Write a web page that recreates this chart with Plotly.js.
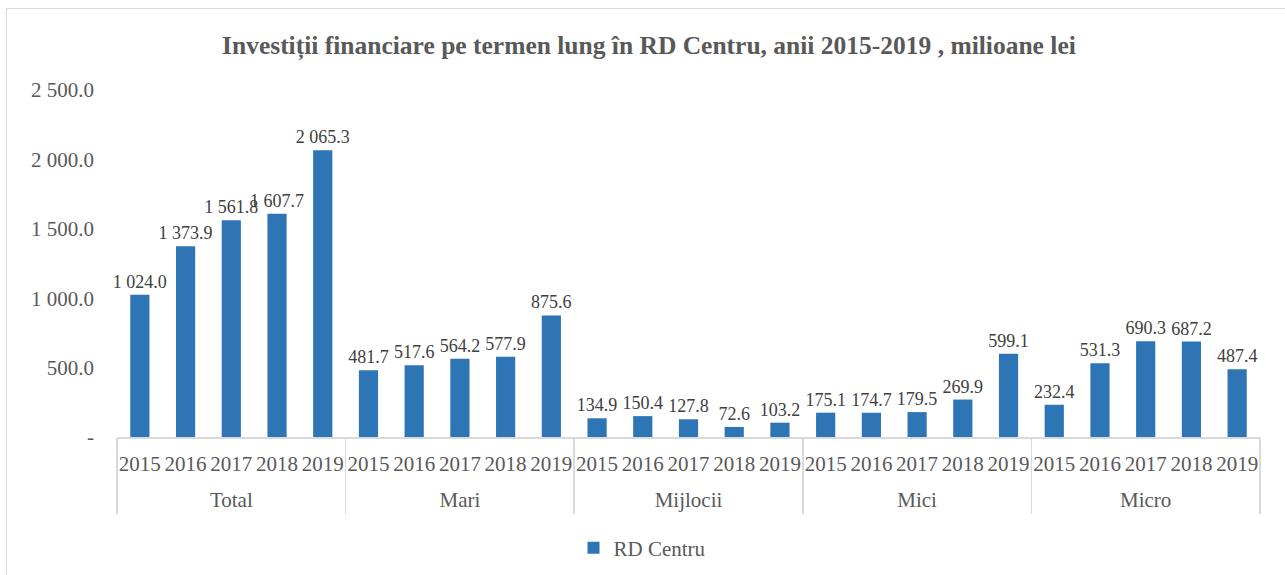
<!DOCTYPE html>
<html>
<head>
<meta charset="utf-8">
<script src="https://cdn.plot.ly/plotly-3.0.1.min.js"></script>
<style>
html,body{margin:0;padding:0;background:#fff;}
#frame{position:absolute;left:6px;top:8px;width:1290px;height:580px;border:1px solid #d9d9d9;box-sizing:border-box;}
#chart{position:absolute;left:0;top:0;width:1285px;height:575px;}
</style>
</head>
<body>
<div id="frame"></div>
<div id="chart"></div>
<script>
const groups = ["Total","Mari","Mijlocii","Mici","Micro"];
const years = ["2015","2016","2017","2018","2019"];
const totalVals = [1024.0, 1373.9, 1561.8, 1607.7, 2065.3];
const mariVals = [481.7, 517.6, 564.2, 577.9, 875.6];
const mijlociiVals = [134.9, 150.4, 127.8, 72.6, 103.2];
const miciVals = [175.1, 174.7, 179.5, 269.9, 599.1];
const microVals = [232.4, 531.3, 690.3, 687.2, 487.4];
const yTickVals = [0, 500, 1000, 1500, 2000, 2500];
const yTickText = ["-", "500.0", "1 000.0", "1 500.0", "2 000.0", "2 500.0"];

const allVals = [totalVals, mariVals, mijlociiVals, miciVals, microVals];
const xCat = [], xYear = [], yv = [];
groups.forEach((g, i) => {
  years.forEach((yr, j) => {
    xCat.push(g + ' ' + yr); xYear.push(yr); yv.push(allVals[i][j]);
  });
});
const nY = years.length;
const groupCenters = groups.map((g, i) => i * nY + (nY - 1) / 2);
const groupBounds = [];
for (let i = 0; i <= groups.length; i++) groupBounds.push(i * nY - 0.5);
const fullRange = [-0.5, groups.length * nY - 0.5];

function fmt(v){
  const s = v.toFixed(1);
  const parts = s.split('.');
  const intp = parts[0].replace(/\B(?=(\d{3})+(?!\d))/g, ' ');
  return intp + '.' + parts[1];
}
const serif = '"Liberation Serif", "Times New Roman", serif';
const trace = {
  type: 'bar',
  name: 'RD Centru',
  x: xCat,
  y: yv,
  marker: {color: '#2E75B6'},
  text: yv.map(fmt),
  textposition: 'outside',
  constraintext: 'none',
  cliponaxis: false,
  textfont: {family: serif, size: 18, color: '#404040'},
  hoverinfo: 'y'
};
// invisible helper so the group-label axis is drawn
const groupAxisTrace = {
  type: 'scatter', mode: 'markers',
  x: groupCenters, y: groupCenters.map(() => 0),
  xaxis: 'x2', yaxis: 'y',
  marker: {opacity: 0, size: 1},
  showlegend: false, hoverinfo: 'skip'
};
const layout = {
  width: 1285, height: 575,
  margin: {l: 117, r: 25, t: 90, b: 138, autoexpand: false},
  paper_bgcolor: 'rgba(0,0,0,0)',
  plot_bgcolor: 'rgba(0,0,0,0)',
  bargap: 0.58,
  title: {
    text: '<b>Investiții financiare pe termen lung în RD Centru, anii 2015-2019 , milioane lei</b>',
    font: {family: serif, size: 25.5, color: '#595959'},
    x: 0.505, xanchor: 'center', y: 0.922, yanchor: 'middle', xref: 'container'
  },
  xaxis: {
    type: 'category',
    range: fullRange,
    tickvals: xCat, ticktext: xYear,
    showline: true, linecolor: '#d9d9d9', linewidth: 1.5,
    tickfont: {family: serif, size: 21, color: '#595959'},
    tickangle: 0, ticklabelstandoff: 7,
    ticks: '', showgrid: false, automargin: false
  },
  xaxis2: {
    overlaying: 'x', anchor: 'y', side: 'bottom',
    type: 'linear', range: fullRange,
    tickvals: groupCenters, ticktext: groups,
    tickfont: {family: serif, size: 21, color: '#595959'},
    tickangle: 0, ticks: '', showgrid: false, zeroline: false, showline: false,
    ticklabelstandoff: 48,
    minor: {tickvals: groupBounds, ticks: 'outside', ticklen: 76, tickcolor: '#d9d9d9', tickwidth: 1.5, showgrid: false},
    automargin: false
  },
  yaxis: {
    range: [0, 2500],
    tickvals: yTickVals, ticktext: yTickText,
    tickfont: {family: serif, size: 21, color: '#595959'},
    showgrid: false, zeroline: false, showline: false, ticks: '',
    ticklabelstandoff: 22, automargin: false
  },
  showlegend: true,
  legend: {
    orientation: 'h', xref: 'container', x: 0.5, xanchor: 'center', y: -0.32, yanchor: 'middle',
    font: {family: serif, size: 21, color: '#595959'}
  }
};
Plotly.newPlot('chart', [trace, groupAxisTrace], layout, {displayModeBar: false, staticPlot: true});
</script>
</body>
</html>
